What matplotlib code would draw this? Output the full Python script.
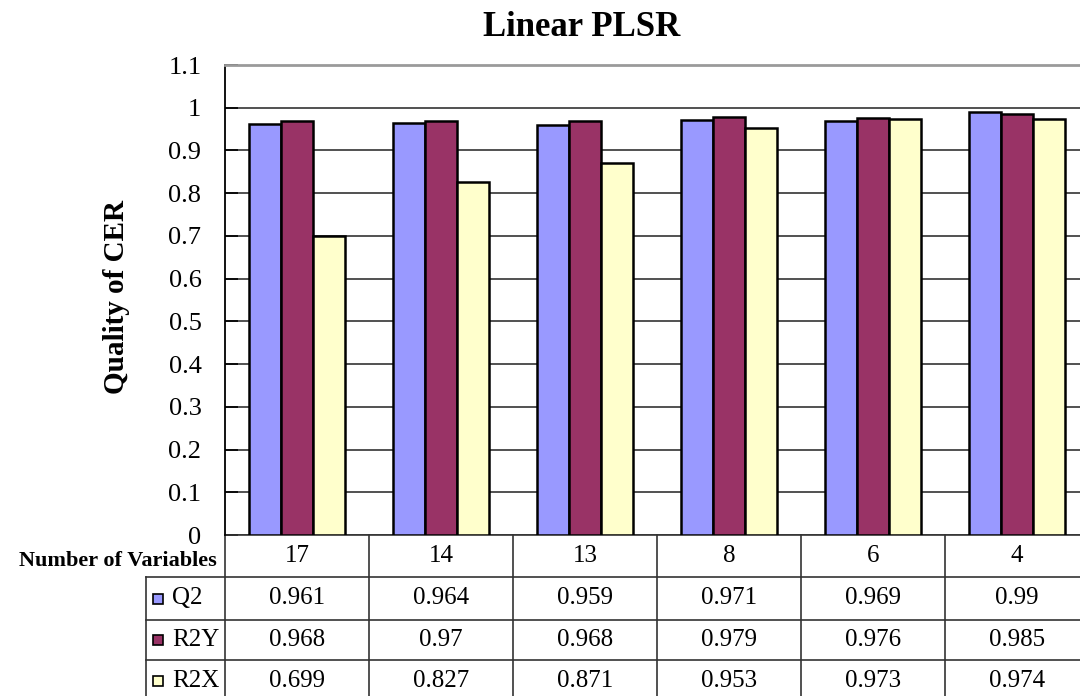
import matplotlib
matplotlib.use("Agg")
import matplotlib.pyplot as plt
from matplotlib.lines import Line2D

plt.rcParams['font.family'] = ['Liberation Serif', 'DejaVu Serif']

# Data
categories = ["17", "14", "13", "8", "6", "4"]
series_names = ["Q2", "R2Y", "R2X"]
q2 = [0.961, 0.964, 0.959, 0.971, 0.969, 0.99]
r2y = [0.968, 0.97, 0.968, 0.979, 0.976, 0.985]
r2x = [0.699, 0.827, 0.871, 0.953, 0.973, 0.974]
yticks = [0, 0.1, 0.2, 0.3, 0.4, 0.5, 0.6, 0.7, 0.8, 0.9, 1, 1.1]

series_values = [q2, r2y, r2x]
colors = ["#9999FF", "#993366", "#FFFFCC"]

W, H = 1080, 696
fig = plt.figure(figsize=(W / 100, H / 100), dpi=100)
fig.patch.set_facecolor("white")

col_w = 144.0
ax_left, ax_top, ax_bottom = 225, 65, 535
n = len(categories)
ax = fig.add_axes([ax_left / W, 1 - ax_bottom / H,
                   n * col_w / W, (ax_bottom - ax_top) / H])

bar_w = 0.22
x = list(range(n))
for k, (vals, c) in enumerate(zip(series_values, colors)):
    ax.bar([i + (k - 1) * bar_w for i in x], vals, width=bar_w,
           color=c, edgecolor="black", linewidth=1.8, zorder=3)

ax.set_xlim(-0.5, n - 0.5)
ax.set_ylim(0, 1.1)
ax.set_yticks(yticks)
ax.set_yticklabels([f"{t:g}" for t in yticks], fontsize=19)
ax.set_xticks([])
ax.tick_params(axis="y", direction="in", length=9, width=1.2, pad=17,
               colors="black")
ax.grid(axis="y", color="#222222", linewidth=1.1, zorder=0)
for s in ["right", "bottom"]:
    ax.spines[s].set_visible(False)
ax.spines["top"].set_color("#9a9a9a")
ax.spines["top"].set_linewidth(2)
ax.spines["left"].set_color("black")
ax.spines["left"].set_linewidth(1.3)

# Data table under the plot area
tr = ax.get_xaxis_transform()
axh = ax_bottom - ax_top
row_px = [535, 577, 620, 660, 702]
def yfrac(py):
    return (ax_bottom - py) / axh

leg_left = -0.5 - (ax_left - 146) / col_w
line_kw = dict(color="#333333", linewidth=1.2, transform=tr, clip_on=False)

# horizontal rules
ax.add_line(Line2D([-0.5, n - 0.5], [yfrac(row_px[0])] * 2, **line_kw))
for py in row_px[1:4]:
    ax.add_line(Line2D([leg_left, n - 0.5], [yfrac(py)] * 2, **line_kw))
# vertical rules
for i in range(n + 1):
    ax.add_line(Line2D([i - 0.5] * 2, [yfrac(row_px[0]), yfrac(row_px[-1])],
                       **line_kw))
ax.add_line(Line2D([leg_left] * 2, [yfrac(row_px[1]), yfrac(row_px[-1])],
                   **line_kw))

# header row
hy = yfrac((row_px[0] + row_px[1]) / 2)
ax.text(-0.5 - 8 / col_w, yfrac(561), "Number of Variables", transform=tr,
        ha="right", va="center", fontsize=16, fontweight="bold",
        clip_on=False)
for i, cat in enumerate(categories):
    ax.text(i, hy, cat, transform=tr, ha="center", va="center",
            fontsize=18, clip_on=False)

# series rows
key_x = -0.5 - (ax_left - 158) / col_w
lab_x = -0.5 - (ax_left - 172) / col_w
for r, (name, vals, c) in enumerate(zip(series_names, series_values, colors)):
    ry = yfrac((row_px[r + 1] + row_px[r + 2]) / 2)
    ax.plot([key_x], [ry], marker="s", markersize=7.5, markerfacecolor=c,
            markeredgecolor="black", markeredgewidth=1.2, transform=tr,
            clip_on=False)
    ax.text(lab_x, ry, name, transform=tr, ha="left", va="center",
            fontsize=18, clip_on=False)
    for i, v in enumerate(vals):
        ax.text(i, ry, f"{v:g}", transform=tr, ha="center", va="center",
                fontsize=18, clip_on=False)

fig.text(582 / W, 1 - 27 / H, "Linear PLSR", ha="center", va="center",
         fontsize=25, fontweight="bold")
fig.text(117 / W, 1 - 297 / H, "Quality of CER", ha="center", va="center",
         rotation=90, fontsize=21, fontweight="bold")

fig.savefig("out.png", dpi=100, facecolor="white")
